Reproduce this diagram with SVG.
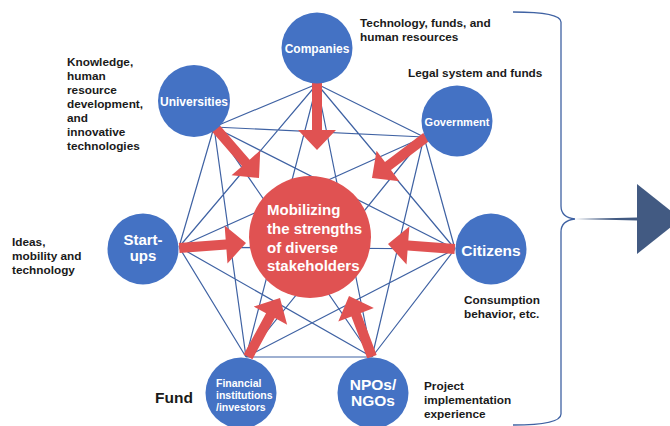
<svg xmlns="http://www.w3.org/2000/svg" width="670" height="426" viewBox="0 0 670 426">
<style>
.node{fill:#4472C4}
.nl{fill:#fff;font-family:"Liberation Sans",Arial,sans-serif;font-weight:bold;text-anchor:middle}
.lbl{fill:#1a1a1a;font-family:"Liberation Sans",Arial,sans-serif;font-weight:bold;font-size:11.8px}
.ct{fill:#fff;font-family:"Liberation Sans",Arial,sans-serif;font-weight:bold;font-size:15px}
.arr{fill:#E05252}
.ln{fill:none;stroke:#3F62A3;stroke-width:1.2}
</style>
<rect width="670" height="426" fill="#fff"/>
<g id="connectors">
<path class="ln" d="M317,84L214,127 M317,84L424,137 M317,84L179,247 M317,84L455,249 M317,84L246,357 M317,84L372,357 M214,127L424,137 M214,127L179,247 M214,127L455,249 M214,127L246,357 M214,127L372,357 M424,137L179,247 M424,137L455,249 M424,137L246,357 M424,137L372,357 M179,247L455,249 M179,247L246,357 M179,247L372,357 M455,249L246,357 M455,249L372,357 M246,357L372,357"/>
</g>
<g id="center">
<circle cx="310" cy="237" r="61" fill="#E05252"/>
<text class="ct" x="267" y="215">Mobilizing</text>
<text class="ct" x="267" y="234">the strengths</text>
<text class="ct" x="267" y="253">of diverse</text>
<text class="ct" x="267" y="271">stakeholders</text>
</g>
<g id="arrows">
<polygon class="arr" transform="translate(317,150) rotate(90)" points="-67,-5 -20,-5 -20,-19 0,0 -20,19 -20,5 -67,5"/>
<polygon class="arr" transform="translate(259,178) rotate(49)" points="-69,-5 -20,-5 -20,-19 0,0 -20,19 -20,5 -69,5"/>
<polygon class="arr" transform="translate(372,178) rotate(143)" points="-68,-5 -20,-5 -20,-19 0,0 -20,19 -20,5 -68,5"/>
<polygon class="arr" transform="translate(246,243) rotate(-4.3)" points="-67,-5 -20,-5 -20,-19 0,0 -20,19 -20,5 -67,5"/>
<polygon class="arr" transform="translate(388,244) rotate(184.3)" points="-67,-5 -20,-5 -20,-19 0,0 -20,19 -20,5 -67,5"/>
<polygon class="arr" transform="translate(280,298) rotate(-61.5)" points="-67,-5 -20,-5 -20,-19 0,0 -20,19 -20,5 -67,5"/>
<polygon class="arr" transform="translate(349,296) rotate(-110.7)" points="-65,-5 -20,-5 -20,-19 0,0 -20,19 -20,5 -65,5"/>
</g>
<g id="companies">
<circle class="node" cx="317" cy="48" r="35.5"/>
<text class="nl" x="317" y="53" font-size="12">Companies</text>
</g>
<g id="universities">
<circle class="node" cx="194" cy="101" r="36"/>
<text class="nl" x="194" y="106" font-size="12">Universities</text>
</g>
<g id="government">
<circle class="node" cx="457" cy="121" r="35.5"/>
<text class="nl" x="457" y="126" font-size="11">Government</text>
</g>
<g id="startups">
<circle class="node" cx="143" cy="249" r="35.5"/>
<text class="nl" font-size="15"><tspan x="143" y="245">Start-</tspan><tspan x="143" y="261">ups</tspan></text>
</g>
<g id="citizens">
<circle class="node" cx="491" cy="249" r="35.5"/>
<text class="nl" x="491" y="256" font-size="15.5">Citizens</text>
</g>
<g id="financial">
<circle class="node" cx="241" cy="393" r="35.5"/>
<text class="nl" font-size="10.5" style="text-anchor:start"><tspan x="216" y="387">Financial</tspan><tspan x="216" y="399">institutions</tspan><tspan x="216" y="411">/investors</tspan></text>
</g>
<g id="npos">
<circle class="node" cx="373" cy="393" r="35.5"/>
<text class="nl" font-size="15.5"><tspan x="373" y="390">NPOs/</tspan><tspan x="373" y="406">NGOs</tspan></text>
</g>
<g id="labels">
<text class="lbl"><tspan x="360" y="27">Technology, funds, and</tspan><tspan x="360" y="41">human resources</tspan></text>
<text class="lbl" x="408" y="77">Legal system and funds</text>
<text class="lbl"><tspan x="67" y="66">Knowledge,</tspan><tspan x="67" y="80">human</tspan><tspan x="67" y="94">resource</tspan><tspan x="67" y="108">development,</tspan><tspan x="67" y="122">and</tspan><tspan x="67" y="136">innovative</tspan><tspan x="67" y="150">technologies</tspan></text>
<text class="lbl"><tspan x="12" y="246">Ideas,</tspan><tspan x="12" y="260">mobility and</tspan><tspan x="12" y="274">technology</tspan></text>
<text class="lbl"><tspan x="464" y="304">Consumption</tspan><tspan x="464" y="318">behavior, etc.</tspan></text>
<text class="lbl"><tspan x="424" y="390">Project</tspan><tspan x="424" y="404">implementation</tspan><tspan x="424" y="418">experience</tspan></text>
<text class="lbl" x="155" y="403" style="font-size:15.5px">Fund</text>
</g>
<g id="brace">
<path d="M513,12 C540,12 561,14 561,22 L561,206 C561,214 566,218 575,219 C566,220 561,224 561,232 L561,414 C561,422 540,425 513,425" fill="none" stroke="#3F62A3" stroke-width="1.3"/>
<path d="M575,219 L637,217.5 L637,220.5 Z" fill="#425A82"/>
<polygon points="637,184 637,254 681,219" fill="#425A82"/>
</g>
</svg>
